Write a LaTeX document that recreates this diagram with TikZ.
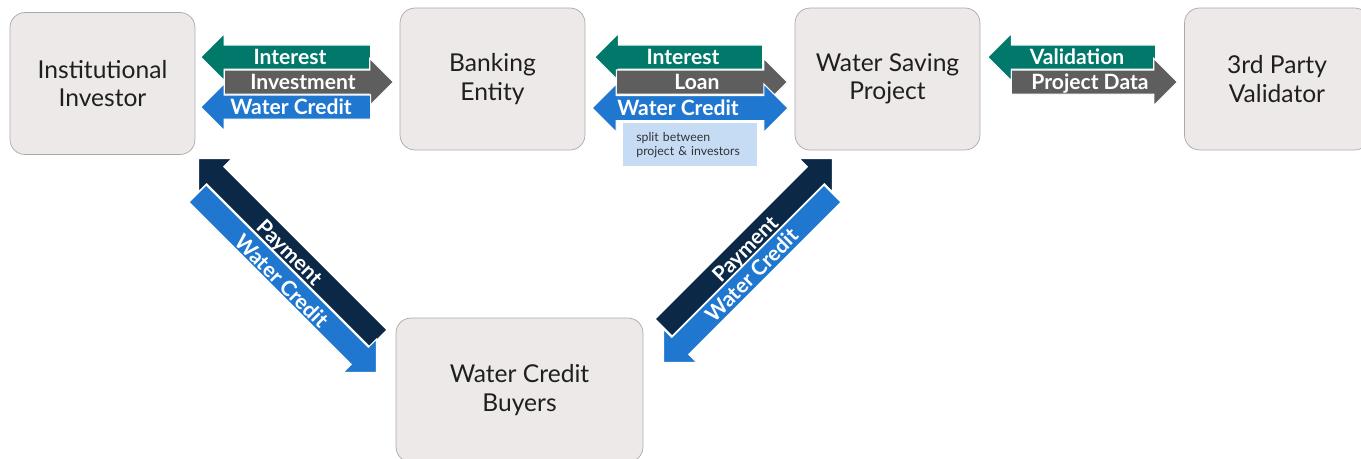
\documentclass[tikz,border=0pt]{standalone}
\usepackage{fontspec}
\setmainfont{Lato}
\usetikzlibrary{shapes.arrows}

\definecolor{tealarr}{HTML}{00796B}
\definecolor{grayarr}{HTML}{5E5E5E}
\definecolor{bluearr}{HTML}{1F77D0}
\definecolor{navyarr}{HTML}{0B2946}
\definecolor{boxfill}{HTML}{EDE9E8}
\definecolor{boxline}{HTML}{A9A9A9}
\definecolor{notefill}{HTML}{C6DCF4}

\tikzset{
  party/.style={draw=boxline, fill=boxfill, rounded corners=0.3cm,
    minimum width=3.7cm, minimum height=2.84cm, align=center,
    text=black!88, font=\fontsize{14}{16}\selectfont},
  flow/.style={single arrow, draw=white, line width=0.6pt, inner xsep=0pt,
    inner ysep=0.23cm, single arrow head extend=0.23cm, anchor=tip},
  flowlabel/.style={text=white, inner sep=0pt, text height=8.6pt, text depth=0pt,
    font=\bfseries\fontsize{12}{12}\selectfont},
  note/.style={fill=notefill, anchor=north west, inner xsep=0.26cm,
    text width=2.16cm, minimum height=0.86cm, align=left,
    text=black!80, font=\fontsize{7}{8}\selectfont}
}

\begin{document}
\begin{tikzpicture}[x=0.02cm, y=-0.02cm]
\useasboundingbox (0,0) rectangle (1361,458);
\clip (0,0) rectangle (1361,458);

% parties
\node[party] (inv)  at (102.5,83.5) {Institutional\\Investor};
\node[party] (bank) at (492.5,79)   {Banking\\Entity};
\node[party] (proj) at (887.5,79)   {Water Saving\\Project};
\node[party] (val)  at (1277,79)    {3rd Party\\Validator};
\node[party, minimum width=4.94cm, minimum height=2.88cm] (buy) at (519.5,390) {Water Credit\\Buyers};

% investor <-> bank
\node[flow, fill=tealarr, rotate=180, minimum height=3.4cm] (int1) at (200,57) {};
\node[flow, fill=grayarr, minimum height=3.38cm] (invest) at (394,82) {};
\node[flow, fill=bluearr, rotate=180, minimum height=3.4cm] (wc1) at (200,107) {};
\node[flowlabel] (tint1)   at (290,57)  {Interest};
\node[flowlabel] (tinvest) at (303,82)  {Investment};
\node[flowlabel] (twc1)    at (291,107) {Water Credit};

% bank <-> project
\node[note] (split) at (623,123) {split between\\project \& investors};
\node[flow, fill=tealarr, rotate=180, minimum height=3.36cm] (int2) at (594,57) {};
\node[flow, fill=grayarr, minimum height=3.42cm] (loan) at (788,82) {};
\node[double arrow, draw=white, line width=0.6pt, fill=bluearr, inner xsep=0pt,
  inner ysep=0.24cm, double arrow head extend=0.23cm, minimum height=3.92cm] (wc2) at (690,108) {};
\node[flowlabel] (tint2) at (683,57)  {Interest};
\node[flowlabel] (tloan) at (697,82)  {Loan};
\node[flowlabel] (twc2)  at (678,108) {Water Credit};

% project <-> validator
\node[flow, fill=tealarr, rotate=180, minimum height=3.36cm] (valid) at (987,57) {};
\node[flow, fill=grayarr, minimum height=3.32cm] (pdata) at (1178,82) {};
\node[flowlabel] (tvalid) at (1077,57) {Validation};
\node[flowlabel] (tpdata) at (1090,82) {Project Data};

% buyers <-> investor
\node[flow, fill=navyarr, rotate=135, minimum height=5.09cm] (pay1) at (198,158) {};
\node[flow, fill=bluearr, rotate=-45, minimum height=5.06cm] (wc3) at (377,373) {};
\node[flowlabel, rotate=-45] (tpay1) at (290,252) {Payment};
\node[flowlabel, rotate=-45] (twc3)  at (282,281) {Water Credit};

% buyers <-> project
\node[flow, fill=navyarr, rotate=45, minimum height=4.78cm] (pay2) at (833,158) {};
\node[flow, fill=bluearr, rotate=225, minimum height=4.78cm] (wc4) at (663,363) {};
\node[flowlabel, rotate=45] (tpay2) at (745,249) {Payment};
\node[flowlabel, rotate=45] (twc4)  at (752,275) {Water Credit};
\end{tikzpicture}
\end{document}
